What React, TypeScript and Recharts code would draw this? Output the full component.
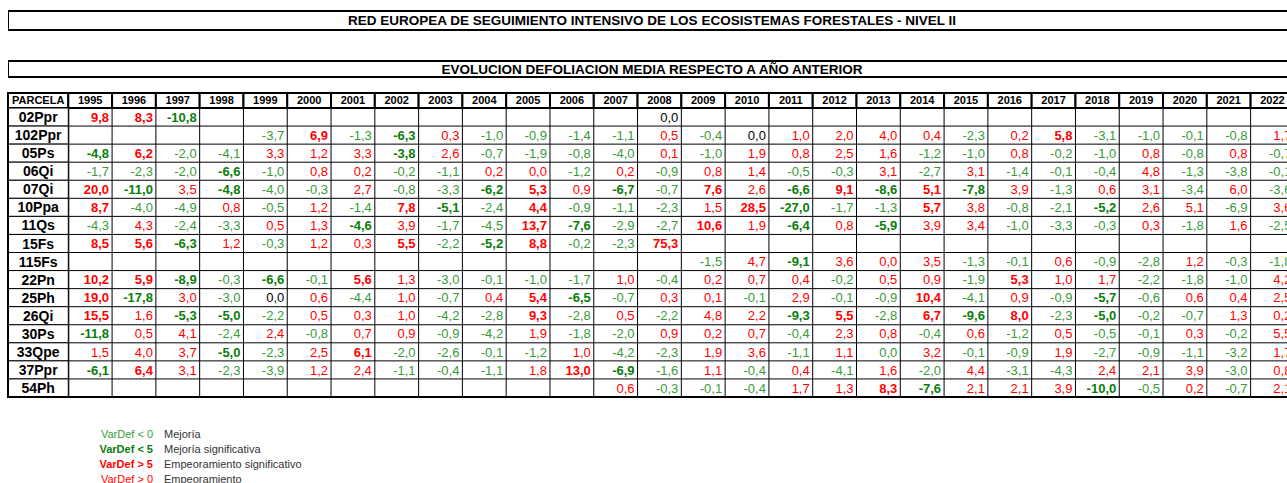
import React from 'react';
import { ScatterChart, Scatter, XAxis, YAxis, ReferenceLine, ReferenceArea } from 'recharts';

// Variación de la defoliación media respecto al año anterior (puntos)
const years = [
  1995, 1996, 1997, 1998, 1999, 2000, 2001, 2002, 2003, 2004, 2005, 2006, 2007, 2008,
  2009, 2010, 2011, 2012, 2013, 2014, 2015, 2016, 2017, 2018, 2019, 2020, 2021, 2022,
];

const parcels = [
  '02Ppr', '102Ppr', '05Ps', '06Qi', '07Qi', '10Ppa', '11Qs', '15Fs',
  '115Fs', '22Pn', '25Ph', '26Qi', '30Ps', '33Qpe', '37Ppr', '54Ph',
];

const _ = null;
// values shown as 0,0 but coloured red/green in the sheet are stored as +/-0.01
const v02Ppr = [9.8, 8.3, -10.8, _, _, _, _, _, _, _, _, _, _, 0, _, _, _, _, _, _, _, _, _, _, _, _, _, _];
const v102Ppr = [_, _, _, _, -3.7, 6.9, -1.3, -6.3, 0.3, -1.0, -0.9, -1.4, -1.1, 0.5, -0.4, 0, 1.0, 2.0, 4.0, 0.4, -2.3, 0.2, 5.8, -3.1, -1.0, -0.1, -0.8, 1.7];
const v05Ps = [-4.8, 6.2, -2.0, -4.1, 3.3, 1.2, 3.3, -3.8, 2.6, -0.7, -1.9, -0.8, -4.0, 0.1, -1.0, 1.9, 0.8, 2.5, 1.6, -1.2, -1.0, 0.8, -0.2, -1.0, 0.8, -0.8, 0.8, -0.7];
const v06Qi = [-1.7, -2.3, -2.0, -6.6, -1.0, 0.8, 0.2, -0.2, -1.1, 0.2, 0.01, -1.2, 0.2, -0.9, 0.8, 1.4, -0.5, -0.3, 3.1, -2.7, 3.1, -1.4, -0.1, -0.4, 4.8, -1.3, -3.8, -0.1];
const v07Qi = [20.0, -11.0, 3.5, -4.8, -4.0, -0.3, 2.7, -0.8, -3.3, -6.2, 5.3, 0.9, -6.7, -0.7, 7.6, 2.6, -6.6, 9.1, -8.6, 5.1, -7.8, 3.9, -1.3, 0.6, 3.1, -3.4, 6.0, -3.6];
const v10Ppa = [8.7, -4.0, -4.9, 0.8, -0.5, 1.2, -1.4, 7.8, -5.1, -2.4, 4.4, -0.9, -1.1, -2.3, 1.5, 28.5, -27.0, -1.7, -1.3, 5.7, 3.8, -0.8, -2.1, -5.2, 2.6, 5.1, -6.9, 3.6];
const v11Qs = [-4.3, 4.3, -2.4, -3.3, 0.5, 1.3, -4.6, 3.9, -1.7, -4.5, 13.7, -7.6, -2.9, -2.7, 10.6, 1.9, -6.4, 0.8, -5.9, 3.9, 3.4, -1.0, -3.3, -0.3, 0.3, -1.8, 1.6, -2.5];
const v15Fs = [8.5, 5.6, -6.3, 1.2, -0.3, 1.2, 0.3, 5.5, -2.2, -5.2, 8.8, -0.2, -2.3, 75.3, _, _, _, _, _, _, _, _, _, _, _, _, _, _];
const v115Fs = [_, _, _, _, _, _, _, _, _, _, _, _, _, _, -1.5, 4.7, -9.1, 3.6, 0.01, 3.5, -1.3, -0.1, 0.6, -0.9, -2.8, 1.2, -0.3, -1.8];
const v22Pn = [10.2, 5.9, -8.9, -0.3, -6.6, -0.1, 5.6, 1.3, -3.0, -0.1, -1.0, -1.7, 1.0, -0.4, 0.2, 0.7, 0.4, -0.2, 0.5, 0.9, -1.9, 5.3, 1.0, 1.7, -2.2, -1.8, -1.0, 4.2];
const v25Ph = [19.0, -17.8, 3.0, -3.0, 0, 0.6, -4.4, 1.0, -0.7, 0.4, 5.4, -6.5, -0.7, 0.3, 0.1, -0.1, 2.9, -0.1, -0.9, 10.4, -4.1, 0.9, -0.9, -5.7, -0.6, 0.6, 0.4, 2.5];
const v26Qi = [15.5, 1.6, -5.3, -5.0, -2.2, 0.5, 0.3, 1.0, -4.2, -2.8, 9.3, -2.8, 0.5, -2.2, 4.8, 2.2, -9.3, 5.5, -2.8, 6.7, -9.6, 8.0, -2.3, -5.0, -0.2, -0.7, 1.3, 0.2];
const v30Ps = [-11.8, 0.5, 4.1, -2.4, 2.4, -0.8, 0.7, 0.9, -0.9, -4.2, 1.9, -1.8, -2.0, 0.9, 0.2, 0.7, -0.4, 2.3, 0.8, -0.4, 0.6, -1.2, 0.5, -0.5, -0.1, 0.3, -0.2, 5.5];
const v33Qpe = [1.5, 4.0, 3.7, -5.0, -2.3, 2.5, 6.1, -2.0, -2.6, -0.1, -1.2, 1.0, -4.2, -2.3, 1.9, 3.6, -1.1, 1.1, -0.01, 3.2, -0.1, -0.9, 1.9, -2.7, -0.9, -1.1, -3.2, 1.7];
const v37Ppr = [-6.1, 6.4, 3.1, -2.3, -3.9, 1.2, 2.4, -1.1, -0.4, -1.1, 1.8, 13.0, -6.9, -1.6, 1.1, -0.4, 0.4, -4.1, 1.6, -2.0, 4.4, -3.1, -4.3, 2.4, 2.1, 3.9, -3.0, 0.8];
const v54Ph = [_, _, _, _, _, _, _, _, _, _, _, _, 0.6, -0.3, -0.1, -0.4, 1.7, 1.3, 8.3, -7.6, 2.1, 2.1, 3.9, -10.0, -0.5, 0.2, -0.7, 2.1];

const rows = [
  v02Ppr, v102Ppr, v05Ps, v06Qi, v07Qi, v10Ppa, v11Qs, v15Fs,
  v115Fs, v22Pn, v25Ph, v26Qi, v30Ps, v33Qpe, v37Ppr, v54Ph,
];

// years with a significant change (bold in the sheet), same order as parcels
const significant = [
  [1995, 1996, 1997],
  [2000, 2002, 2017],
  [1995, 1996, 2002],
  [1998],
  [1995, 1996, 1998, 2004, 2005, 2007, 2009, 2011, 2012, 2013, 2014, 2015],
  [1995, 2002, 2003, 2005, 2010, 2011, 2014, 2018],
  [2001, 2005, 2006, 2009, 2011, 2013],
  [1995, 1996, 1997, 2002, 2004, 2005, 2008],
  [2011],
  [1995, 1996, 1997, 1999, 2001, 2016],
  [1995, 1996, 2005, 2006, 2014, 2018],
  [1995, 1997, 1998, 2005, 2011, 2012, 2014, 2015, 2016, 2018],
  [1995],
  [1998, 2001],
  [1995, 1996, 2006, 2007],
  [2013, 2014, 2018],
];

const FONT = '"Liberation Sans", Arial, sans-serif';
const RED = '#ff0000';
const GREEN = '#3a9a3a';
const GREEN_BOLD = '#0a7d0a';

const CHART_W = 1300;
const CHART_H = 483;
const MARGIN = { top: 93, right: 5.6, bottom: 86, left: 8 };
const LABEL_W = 60.3;
const HEADER_H = 15;
const colW = (CHART_W - MARGIN.left - MARGIN.right - LABEL_W) / years.length;
const rowH = (CHART_H - MARGIN.top - MARGIN.bottom - HEADER_H) / parcels.length;

const cells = rows.flatMap((row, r) =>
  row
    .map((v, c) => ({ x: c, y: r, v, sig: significant[r].includes(years[c]) }))
    .filter((d) => d.v !== null),
);

const fmt = (v: number) => (Math.abs(v) < 0.05 ? '0,0' : v.toFixed(1).replace('.', ','));

const cellColor = (v: number, sig: boolean) => {
  if (v === 0) return '#000';
  if (v < 0) return sig ? GREEN_BOLD : GREEN;
  return RED;
};

function CellText(props: any) {
  const { cx, cy, payload } = props;
  if (cx == null || cy == null) return null;
  return (
    <text
      x={cx + colW / 2 - 3}
      y={cy}
      dy="0.36em"
      textAnchor="end"
      fontFamily={FONT}
      fontSize={13}
      fontWeight={payload.sig ? 700 : 400}
      fill={cellColor(payload.v, payload.sig)}
    >
      {fmt(payload.v)}
    </text>
  );
}

function HeaderTick(props: any) {
  const { x, index, payload } = props;
  const top = MARGIN.top;
  return (
    <g>
      {index === 0 && (
        <g>
          <rect x={MARGIN.left} y={top} width={x - colW / 2 - MARGIN.left} height={HEADER_H} fill="#fff" stroke="#000" strokeWidth={2} />
          <text x={(MARGIN.left + x - colW / 2) / 2} y={top + HEADER_H / 2} dy="0.36em" textAnchor="middle" fontFamily={FONT} fontSize={11} fontWeight={700} fill="#000">
            PARCELA
          </text>
        </g>
      )}
      <rect x={x - colW / 2} y={top} width={colW} height={HEADER_H} fill="#fff" stroke="#000" strokeWidth={2} />
      <text x={x} y={top + HEADER_H / 2} dy="0.36em" textAnchor="middle" fontFamily={FONT} fontSize={11} fontWeight={700} fill="#000">
        {years[payload.value]}
      </text>
    </g>
  );
}

function RowTick(props: any) {
  const { y, index, payload } = props;
  const left = MARGIN.left;
  return (
    <g>
      <rect x={left} y={y - rowH / 2} width={LABEL_W} height={rowH} fill="#fff" stroke="#000" strokeWidth={1} />
      <line x1={left} x2={left} y1={y - rowH / 2} y2={y + rowH / 2} stroke="#000" strokeWidth={2} />
      {index === parcels.length - 1 && (
        <line x1={left - 1} x2={left + LABEL_W} y1={y + rowH / 2} y2={y + rowH / 2} stroke="#000" strokeWidth={2} />
      )}
      <text x={left + LABEL_W / 2} y={y} dy="0.36em" textAnchor="middle" fontFamily={FONT} fontSize={14} fontWeight={700} fill="#000">
        {parcels[payload.value]}
      </text>
    </g>
  );
}

const titleBox = (top: number, inner: number): React.CSSProperties => ({
  position: 'absolute',
  left: 8,
  top,
  width: 1286,
  height: inner,
  lineHeight: `${inner + 1}px`,
  overflow: 'hidden',
  borderTop: '2px solid #000',
  borderBottom: '2px solid #000',
  borderLeft: '1px solid #000',
  textAlign: 'center',
  fontFamily: FONT,
  fontSize: 13.5,
  fontWeight: 700,
  color: '#000',
  whiteSpace: 'nowrap',
});

const legend = [
  { label: 'VarDef < 0', text: 'Mejoría', color: GREEN, bold: false },
  { label: 'VarDef < 5', text: 'Mejoría significativa', color: GREEN_BOLD, bold: true },
  { label: 'VarDef > 5', text: 'Empeoramiento significativo', color: RED, bold: true },
  { label: 'VarDef > 0', text: 'Empeoramiento', color: RED, bold: false },
];

export default function App() {
  return (
    <div style={{ position: 'absolute', left: 0, top: 0, width: 1287, height: 483, overflow: 'hidden', background: '#fff' }}>
      <div style={titleBox(10, 17)}>RED EUROPEA DE SEGUIMIENTO INTENSIVO DE LOS ECOSISTEMAS FORESTALES - NIVEL II</div>
      <div style={titleBox(60, 14)}>EVOLUCION DEFOLIACION MEDIA RESPECTO A AÑO ANTERIOR</div>

      <div style={{ position: 'absolute', left: 0, top: 0 }}>
        <ScatterChart width={CHART_W} height={CHART_H} margin={MARGIN}>
          <XAxis
            type="number"
            dataKey="x"
            orientation="top"
            domain={[-0.5, years.length - 0.5]}
            allowDataOverflow
            ticks={years.map((_y, i) => i)}
            interval={0}
            height={HEADER_H}
            axisLine={false}
            tickLine={false}
            tick={(p: any) => <HeaderTick {...p} />}
          />
          <YAxis
            type="number"
            dataKey="y"
            reversed
            domain={[-0.5, parcels.length - 0.5]}
            allowDataOverflow
            ticks={parcels.map((_p, i) => i)}
            interval={0}
            width={LABEL_W}
            axisLine={false}
            tickLine={false}
            tick={(p: any) => <RowTick {...p} />}
          />
          {years.slice(1).map((_y, i) => (
            <ReferenceLine key={`c${i}`} x={i + 0.5} stroke="#000" strokeWidth={1} />
          ))}
          {parcels.slice(1).map((_p, i) => (
            <ReferenceLine key={`r${i}`} y={i + 0.5} stroke="#000" strokeWidth={1} />
          ))}
          <ReferenceArea
            x1={-0.5}
            x2={years.length - 0.5}
            y1={-0.5}
            y2={parcels.length - 0.5}
            fill="none"
            fillOpacity={0}
            stroke="#000"
            strokeWidth={2}
          />
          <Scatter data={cells} isAnimationActive={false} shape={(p: any) => <CellText {...p} />} />
        </ScatterChart>
      </div>

      {legend.map((l, i) => (
        <div key={l.label} style={{ position: 'absolute', top: 427 + i * 15, left: 0, height: 14, lineHeight: '14px', fontFamily: FONT, fontSize: 11, whiteSpace: 'nowrap' }}>
          <span style={{ position: 'absolute', right: -153, width: 100, textAlign: 'right', color: l.color, fontWeight: l.bold ? 700 : 400 }}>
            {l.label}
          </span>
          <span style={{ position: 'absolute', left: 164, color: '#333' }}>{l.text}</span>
        </div>
      ))}
    </div>
  );
}
